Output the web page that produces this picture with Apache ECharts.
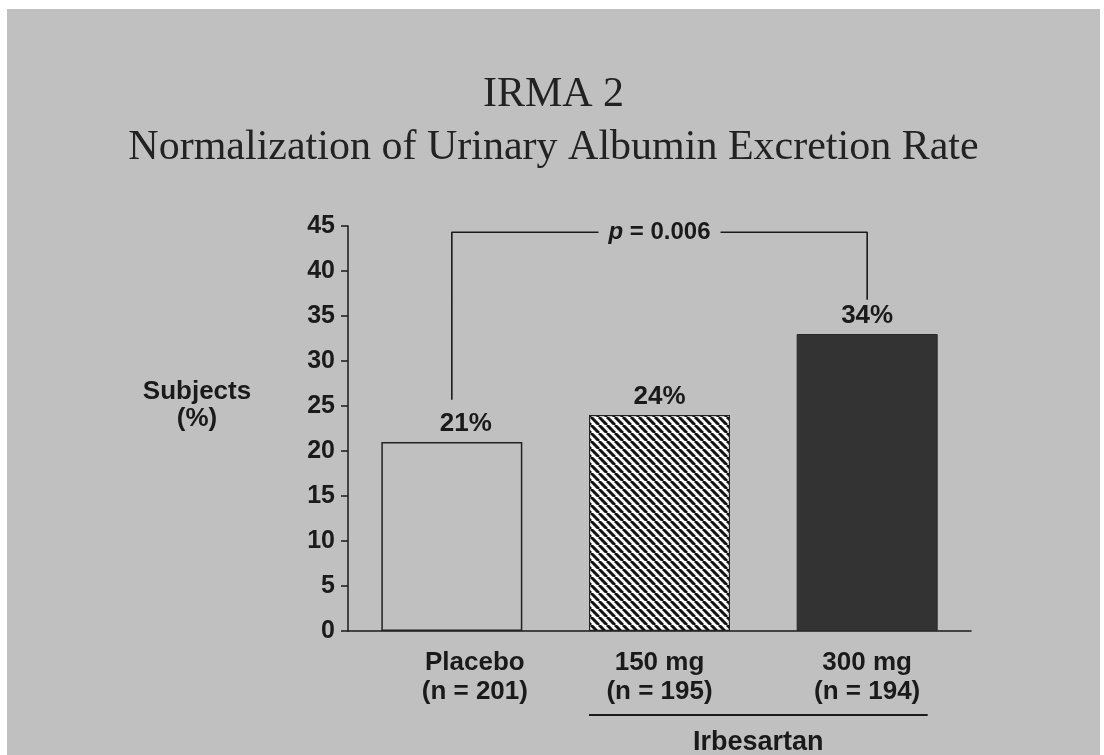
<!DOCTYPE html>
<html>
<head>
<meta charset="utf-8">
<script src="https://cdn.jsdelivr.net/npm/echarts@6/dist/echarts.min.js"></script>
<style>
  html, body { margin: 0; padding: 0; background: #ffffff; width: 1104px; height: 755px; overflow: hidden; }
  #chart { position: absolute; left: 7px; top: 9px; width: 1093px; height: 746px; }
</style>
</head>
<body>
<div id="chart"></div>
<script>
// ---- data ----
const titleLines = ['IRMA 2', 'Normalization of Urinary Albumin Excretion Rate'];
const categories = ['Placebo', '150 mg', '300 mg'];
const sampleSizes = ['(n = 201)', '(n = 195)', '(n = 194)'];
const values = [21, 24, 33];
const valueLabels = ['21%', '24%', '34%'];
const yAxisName = ['Subjects', '(%)'];
const yMin = 0, yMax = 45, yInterval = 5;
const bracketLeftStart = 25.7;   // value where left bracket leg starts (placebo)
const bracketTop = 44.3;         // bracket horizontal level
const bracketRightEnd = 36.8;    // value where right bracket leg ends (300 mg)
const pValueText = '0.006';
const groupLabel = 'Irbesartan';
const groupCategories = [1, 2];  // indices grouped under the label

// ---- styles ----
const BG = '#c0c0c0';
const INK = '#1a1a1a';
const SANS = '"Liberation Sans", Arial, sans-serif';
const SERIF = '"Liberation Serif", "Times New Roman", serif';
const BAR_W = 141;

function hatch() {
  const s = 8;
  const c = document.createElement('canvas');
  c.width = s; c.height = s;
  const g = c.getContext('2d');
  g.fillStyle = '#ffffff';
  g.fillRect(0, 0, s, s);
  g.strokeStyle = '#111111';
  g.lineWidth = 3;
  for (const o of [-s, 0, s]) {
    g.beginPath(); g.moveTo(o, 0); g.lineTo(o + s, s); g.stroke();
  }
  return c;
}

const barStyles = [
  { color: 'rgba(0,0,0,0)', borderColor: '#222', borderWidth: 1.5 },
  { color: { image: hatch(), repeat: 'repeat' }, borderColor: '#222', borderWidth: 1.2 },
  { color: '#333333', borderColor: '#2a2a2a', borderWidth: 1 }
];

const catFont = { fontFamily: SANS, fontWeight: 'bold', fontSize: 26, color: INK, lineHeight: 29 };

const chart = echarts.init(document.getElementById('chart'), null, { renderer: 'canvas' });

const option = {
  backgroundColor: BG,
  animation: false,
  title: {
    text: titleLines.join('\n'),
    left: 'center',
    top: 54,
    textStyle: { fontFamily: SERIF, fontSize: 42, fontWeight: 'normal', color: '#222', lineHeight: 53 }
  },
  grid: { left: 341, top: 217, right: 129, bottom: 124 },
  xAxis: {
    type: 'category',
    data: categories,
    axisLine: { lineStyle: { color: INK, width: 1.5 } },
    axisTick: { show: false },
    axisLabel: Object.assign({
      margin: 17,
      interval: 0,
      rich: {
        a: Object.assign({}, catFont),
        s: Object.assign({ padding: [0, 0, 0, 46] }, catFont)
      },
      formatter: function (v, i) {
        const k = i === 0 ? 's' : 'a';
        return '{' + k + '|' + v + '}\n{' + k + '|' + sampleSizes[i] + '}';
      }
    }, catFont)
  },
  yAxis: {
    type: 'value',
    min: yMin, max: yMax, interval: yInterval,
    splitLine: { show: false },
    axisLine: { show: true, lineStyle: { color: INK, width: 1.5 } },
    axisTick: { show: true, length: 7, lineStyle: { color: INK, width: 1.5 } },
    axisLabel: { margin: 13, fontFamily: SANS, fontWeight: 'bold', fontSize: 25, color: INK }
  },
  series: [
    {
      type: 'bar',
      barWidth: BAR_W,
      data: values.map((v, i) => ({
        value: v,
        itemStyle: barStyles[i],
        label: i === 0 ? { offset: [14, 0] } : undefined
      })),
      label: {
        show: true, position: 'top', distance: 5,
        fontFamily: SANS, fontWeight: 'bold', fontSize: 26, color: INK,
        formatter: p => valueLabels[p.dataIndex]
      },
      z: 2
    },
    {
      type: 'line',
      data: [[0, bracketLeftStart], [0, bracketTop], [2, bracketTop], [2, bracketRightEnd]],
      symbol: 'none',
      lineStyle: { color: INK, width: 1.6 },
      z: 3,
      silent: true
    },
    {
      type: 'scatter',
      data: [[1, bracketTop]],
      symbolSize: 0,
      itemStyle: { opacity: 1 },
      z: 4,
      silent: true,
      label: {
        show: true, position: 'inside',
        formatter: '{i|p} = ' + pValueText,
        backgroundColor: BG,
        padding: [2, 10],
        fontFamily: SANS, fontWeight: 'bold', fontSize: 24, color: INK, opacity: 1,
        rich: { i: { fontFamily: SANS, fontWeight: 'bold', fontStyle: 'italic', fontSize: 24, color: INK } }
      }
    }
  ]
};
chart.setOption(option);

// annotations positioned from the axes
const yName = chart.convertToPixel({ gridIndex: 0 }, [0, 25]);
const g1 = chart.convertToPixel({ gridIndex: 0 }, [groupCategories[0], 0]);
const g2 = chart.convertToPixel({ gridIndex: 0 }, [groupCategories[1], 0]);
const lineLeft = g1[0] - BAR_W / 2;
const lineRight = g2[0] + BAR_W / 2 - 10;
chart.setOption({
  graphic: [
    {
      type: 'text',
      style: {
        text: yAxisName.join('\n'), x: 190, y: yName[1] - 1,
        textAlign: 'center', textVerticalAlign: 'middle',
        font: 'bold 26px ' + SANS, fill: INK, lineHeight: 27
      }
    },
    {
      type: 'line',
      shape: { x1: lineLeft, y1: g1[1] + 84, x2: lineRight, y2: g1[1] + 84 },
      style: { stroke: INK, lineWidth: 2 }
    },
    {
      type: 'text',
      style: {
        text: groupLabel, x: (lineLeft + lineRight) / 2, y: g1[1] + 112,
        textAlign: 'center', textVerticalAlign: 'middle',
        font: 'bold 27px ' + SANS, fill: INK
      }
    }
  ]
});
</script>
</body>
</html>
